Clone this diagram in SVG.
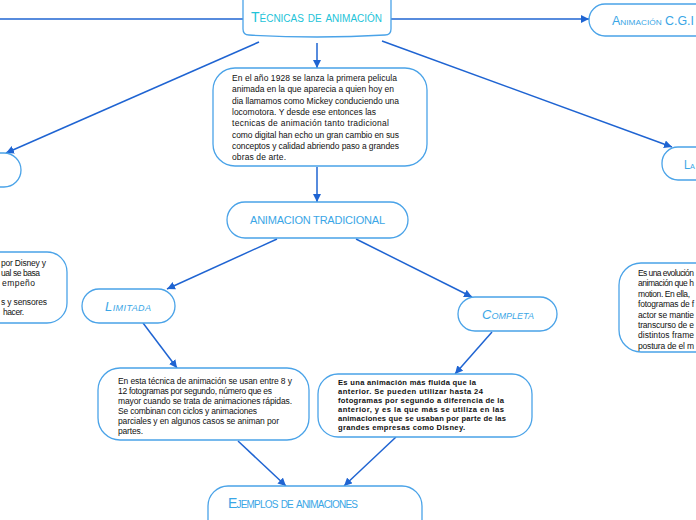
<svg xmlns="http://www.w3.org/2000/svg" width="696" height="520" viewBox="0 0 696 520">
<defs>
<marker id="ah" markerUnits="userSpaceOnUse" markerWidth="9" markerHeight="8" refX="8" refY="4" orient="auto">
<path d="M0,0 L8,4 L0,8 z" fill="#1f64d2"/>
</marker>
<style>
.n{fill:#fff;stroke:#4aa3e8;stroke-width:1.3}
.c{fill:none;stroke:#1f64d2;stroke-width:1.5}
.a{marker-end:url(#ah)}
.h{font-family:"Liberation Sans",sans-serif;fill:#3aa6e6;font-variant:small-caps}
.t{font-family:"Liberation Sans",sans-serif;fill:#111;font-size:8.5px}
.b{font-family:"Liberation Sans",sans-serif;fill:#111;font-size:7.6px;font-weight:bold}
</style>
</defs>
<rect width="696" height="520" fill="#fff"/>
<g id="connectors">
<path class="c" d="M0,19 L243,19"/>
<path class="c a" d="M391,19 L589,19"/>
<path class="c a" d="M259,42 L6,153"/>
<path class="c a" d="M317,43 L317,68"/>
<path class="c a" d="M382,41 L672,147"/>
<path class="c a" d="M317,167 L317,202"/>
<path class="c a" d="M277,239 L167,289"/>
<path class="c a" d="M356,239 L472,297"/>
<path class="c a" d="M143,323 L177,368"/>
<path class="c a" d="M492,332 L455,374"/>
<path class="c a" d="M238,441 L286,486"/>
<path class="c a" d="M396,437 L344,486"/>
</g>
<g id="root">
<path class="n" d="M243,-5 L243,29 Q243,35 249,35 Q317,39 385,35 Q391,35 391,29 L391,-5"/>
<text class="h" x="251" y="22" font-size="14" textLength="131" style="fill:#22c3d8">Técnicas de animación</text>
</g>
<g id="cgi">
<rect class="n" x="589" y="4" width="140" height="32" rx="16"/>
<text class="h" x="612" y="25" font-size="12" textLength="82" lengthAdjust="spacingAndGlyphs">Animación C.G.I</text>
</g>
<g id="left-node">
<rect class="n" x="-60" y="153" width="81" height="34" rx="17"/>
</g>
<g id="right-node">
<rect class="n" x="662" y="147" width="100" height="33" rx="16"/>
<text class="h" x="684" y="169" font-size="12" textLength="11" lengthAdjust="spacingAndGlyphs">La</text>
</g>
<g id="intro">
<rect class="n" x="213" y="68" width="214" height="98" rx="22"/>
<text class="t" font-size="9">
<tspan x="232" y="81" textLength="165">En el año 1928 se lanza la primera pelicula</tspan>
<tspan x="232" y="92.3" textLength="162">animada en la que aparecia a quien hoy en</tspan>
<tspan x="232" y="103.6" textLength="167">dia llamamos como Mickey conduciendo una</tspan>
<tspan x="232" y="114.9" textLength="144">locomotora. Y desde ese entonces las</tspan>
<tspan x="232" y="126.2" textLength="157">tecnicas de animación tanto tradicional</tspan>
<tspan x="232" y="137.5" textLength="167">como digital han echo un gran cambio en sus</tspan>
<tspan x="232" y="148.8" textLength="167">conceptos y calidad abriendo paso a grandes</tspan>
<tspan x="232" y="160" textLength="54">obras de arte.</tspan>
</text>
</g>
<g id="left-text">
<rect class="n" x="-40" y="252" width="107" height="71" rx="20"/>
<text class="t">
<tspan x="1" y="266" textLength="45">por Disney y</tspan>
<tspan x="1" y="276" textLength="39">ual se basa</tspan>
<tspan x="2" y="286" textLength="33">empeño</tspan>
<tspan x="1" y="305" textLength="46">s y sensores</tspan>
<tspan x="3" y="315" textLength="21">hacer.</tspan>
</text>
</g>
<g id="right-text">
<rect class="n" x="619" y="263" width="120" height="89" rx="22"/>
<text class="t" lengthAdjust="spacingAndGlyphs">
<tspan x="638" y="276" textLength="56">Es una evolución</tspan>
<tspan x="638" y="286.4" textLength="56">animación que h</tspan>
<tspan x="638" y="296.8" textLength="52">motion. En ella,</tspan>
<tspan x="638" y="307.2" textLength="56">fotogramas de f</tspan>
<tspan x="638" y="317.6" textLength="56">actor se mantie</tspan>
<tspan x="638" y="328" textLength="56">transcurso de e</tspan>
<tspan x="638" y="338.4" textLength="56">distintos frame</tspan>
<tspan x="638" y="348.8" textLength="56">postura de el m</tspan>
</text>
</g>
<g id="tradicional">
<rect class="n" x="227" y="202" width="181" height="36" rx="18"/>
<text class="h" x="250" y="224" font-size="11" textLength="135">ANIMACION TRADICIONAL</text>
</g>
<g id="limitada">
<rect class="n" x="82" y="289" width="93" height="34" rx="17"/>
<text class="h" x="105" y="311" font-size="13" font-style="italic" textLength="46">Limitada</text>
</g>
<g id="completa">
<rect class="n" x="458" y="297" width="99" height="34" rx="17"/>
<text class="h" x="482" y="319" font-size="13" font-style="italic" textLength="52">Completa</text>
</g>
<g id="limitada-text">
<rect class="n" x="98" y="368" width="211" height="72" rx="22"/>
<text class="t">
<tspan x="118" y="384" textLength="174">En esta técnica de animación se usan entre 8 y</tspan>
<tspan x="118" y="394" textLength="154">12 fotogramas por segundo, número que es</tspan>
<tspan x="118" y="404" textLength="174">mayor cuando se trata de animaciones rápidas.</tspan>
<tspan x="118" y="414" textLength="139">Se combinan con ciclos y animaciones</tspan>
<tspan x="118" y="424" textLength="161">parciales y en algunos casos se animan por</tspan>
<tspan x="118" y="434" textLength="25">partes.</tspan>
</text>
</g>
<g id="completa-text">
<rect class="n" x="318" y="374" width="214" height="63" rx="20"/>
<text class="b">
<tspan x="338" y="385" textLength="138">Es una animación más fluida que la</tspan>
<tspan x="338" y="394" textLength="145">anterior. Se pueden utilizar hasta 24</tspan>
<tspan x="338" y="403" textLength="166">fotogramas por segundo a diferencia de la</tspan>
<tspan x="338" y="412" textLength="166">anterior, y es la que más se utiliza en las</tspan>
<tspan x="338" y="421" textLength="168">animaciones que se usaban por parte de las</tspan>
<tspan x="338" y="430" textLength="127">grandes empresas como Disney.</tspan>
</text>
</g>
<g id="ejemplos">
<rect class="n" x="208" y="486" width="214" height="60" rx="20"/>
<text class="h" x="228" y="508" font-size="14" textLength="130">Ejemplos de animaciones</text>
</g>
</svg>
